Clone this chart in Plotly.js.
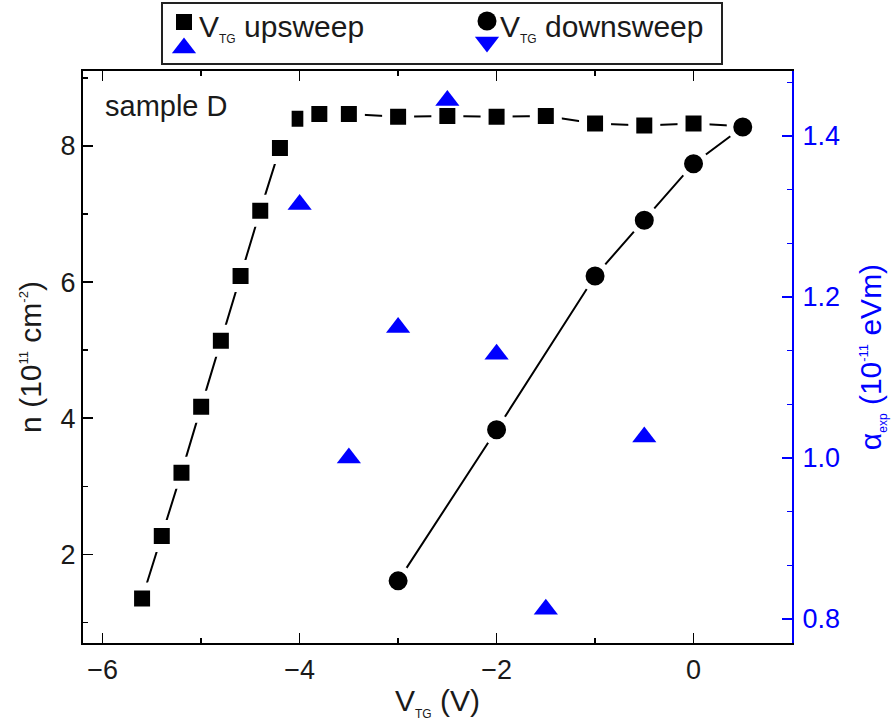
<!DOCTYPE html>
<html><head><meta charset="utf-8">
<script src="https://cdn.plot.ly/plotly-3.0.1.min.js"></script>
<style>html,body{margin:0;padding:0;background:#fff}#chart{width:893px;height:724px}</style>
</head><body><div id="chart"></div>
<script>
// ---- data ----
const vtgUp   = [-5.6,-5.4,-5.2,-5.0,-4.8,-4.6,-4.4,-4.2,-4.0,-3.8,-3.5,-3.0,-2.5,-2.0,-1.5,-1.0,-0.5,0.0,0.5];
const nUp     = [1.35,2.27,3.20,4.17,5.14,6.09,7.05,7.97,8.40,8.47,8.47,8.43,8.44,8.43,8.44,8.33,8.30,8.33,8.29];
const vtgDown = [-3.0,-2.0,-1.0,-0.5,0.0,0.5];
const nDown   = [1.61,3.83,6.09,6.91,7.74,8.28];
const vtgAlpha = [-4.0,-3.5,-3.0,-2.5,-2.0,-1.5,-0.5];
const alphaUp  = [1.315,1.000,1.162,1.444,1.129,0.812,1.026];
const xTickVals = [-6,-4,-2,0];
const yTickVals = [2,4,6,8];
const y2TickVals = [0.8,1.0,1.2,1.4];
const y2TickText = ['0.8','1.0','1.2','1.4'];
const legendLabels = ['V<sub><span style="font-size:12px">TG</span></sub> upsweep',
                      'V<sub><span style="font-size:12px">TG</span></sub> downsweep'];
const sampleLabel = 'sample D';

// ---- layout constants ----
const FONT = 'Liberation Sans, Arial, sans-serif';
const BLUE = '#0000ff';
const W = 893, H = 724;
const mL = 83, mR = 101, mB = 81;
const plotH = H - mB;            // paper height in px (top margin 0)
const topPx = 71;                // top of main plot area
const mainTop = 1 - topPx / plotH;

const traces = [
  { x: vtgUp, y: nUp, mode: 'lines+markers', xaxis: 'x', yaxis: 'y',
    line: {color: '#000', width: 2},
    marker: {symbol: 'square', size: 24, color: '#000', line: {color: '#fff', width: 8}},
    showlegend: false, hoverinfo: 'skip' },
  { x: vtgDown, y: nDown, mode: 'lines+markers', xaxis: 'x', yaxis: 'y',
    line: {color: '#000', width: 2},
    marker: {symbol: 'circle', size: 25, color: '#000', line: {color: '#fff', width: 6}},
    showlegend: false, hoverinfo: 'skip' },
  { x: vtgAlpha, y: alphaUp, mode: 'markers', xaxis: 'x', yaxis: 'y2',
    marker: {symbol: 'triangle-up', size: 21, color: BLUE},
    showlegend: false, hoverinfo: 'skip' },
  // legend symbols (coordinates of the legend panel axis)
  { x: [184], y: [22], mode: 'markers', xaxis: 'x3', yaxis: 'y3',
    marker: {symbol: 'square', size: 16, color: '#000'}, showlegend: false, hoverinfo: 'skip' },
  { x: [184], y: [48], mode: 'markers', xaxis: 'x3', yaxis: 'y3',
    marker: {symbol: 'triangle-up', size: 21, color: BLUE}, showlegend: false, hoverinfo: 'skip' },
  { x: [487], y: [21], mode: 'markers', xaxis: 'x3', yaxis: 'y3',
    marker: {symbol: 'circle', size: 19, color: '#000'}, showlegend: false, hoverinfo: 'skip' },
  { x: [487], y: [42], mode: 'markers', xaxis: 'x3', yaxis: 'y3',
    marker: {symbol: 'triangle-down', size: 21, color: BLUE}, showlegend: false, hoverinfo: 'skip' }
];

const layout = {
  width: W, height: H,
  margin: {l: mL, r: mR, t: 0, b: mB, pad: 0},
  paper_bgcolor: '#fff', plot_bgcolor: 'rgba(0,0,0,0)',
  font: {family: FONT, size: 27, color: '#000'},
  showlegend: false,
  xaxis: {
    domain: [0, 1], anchor: 'y', range: [-6.2, 1.0],
    tickvals: xTickVals, ticks: 'inside', ticklen: 10, tickwidth: 1.5, tickcolor: '#000',
    minor: {dtick: 1, ticks: 'inside', ticklen: 5, tickwidth: 1.5, tickcolor: '#000'},
    showline: true, linecolor: '#000', linewidth: 2, mirror: 'ticks',
    showgrid: false, zeroline: false, ticklabelstandoff: 2,
    tickfont: {family: FONT, size: 27, color: '#1a1a1a'},
    title: {text: 'V<sub><span style="font-size:12px">TG</span></sub> (V)',
            font: {family: FONT, size: 30, color: '#1a1a1a'}, standoff: 6}
  },
  yaxis: {
    domain: [0, mainTop], anchor: 'x', range: [0.697, 9.102],
    tickvals: yTickVals, ticks: 'inside', ticklen: 10, tickwidth: 1.5, tickcolor: '#000',
    minor: {dtick: 1, ticks: 'inside', ticklen: 5, tickwidth: 1.5, tickcolor: '#000'},
    showline: true, linecolor: '#000', linewidth: 2, mirror: false,
    showgrid: false, zeroline: false,
    tickfont: {family: FONT, size: 27, color: '#1a1a1a'},
    title: {text: 'n (10<sup><span style="font-size:13px">11</span></sup> cm<sup><span style="font-size:13px">-2</span></sup>)',
            font: {family: FONT, size: 30, color: '#1a1a1a'}, standoff: 10}
  },
  yaxis2: {
    overlaying: 'y', side: 'right', anchor: 'x', range: [0.7702, 1.4807],
    tickvals: y2TickVals, ticktext: y2TickText, ticks: 'inside', ticklen: 10, tickwidth: 1.5, tickcolor: BLUE,
    minor: {dtick: 0.2/3, tick0: 0, ticks: 'inside', ticklen: 5, tickwidth: 1.5, tickcolor: BLUE},
    showline: true, linecolor: BLUE, linewidth: 2,
    showgrid: false, zeroline: false, ticklabelstandoff: 3,
    tickfont: {family: FONT, size: 27, color: BLUE},
    title: {text: 'α<sub><span style="font-size:12px">exp</span></sub> (10<sup><span style="font-size:13px">-11</span></sup> eVm)',
            font: {family: FONT, size: 30, color: BLUE}, standoff: 21}
  },
  xaxis3: {domain: [0, 1], anchor: 'y3', range: [mL, W - mR], visible: false, fixedrange: true},
  yaxis3: {domain: [mainTop, 1], anchor: 'x3', range: [topPx, 0], visible: false, fixedrange: true},
  shapes: [
    {type: 'rect', xref: 'x3', yref: 'y3', x0: 162, x1: 722, y0: 3, y1: 64,
     line: {color: '#222', width: 2}, fillcolor: 'rgba(0,0,0,0)', layer: 'below'}
  ],
  annotations: [
    {xref: 'x3', yref: 'y3', x: 197, y: 28, xanchor: 'left', yanchor: 'middle', showarrow: false,
     text: legendLabels[0], font: {family: FONT, size: 30, color: '#1a1a1a'}},
    {xref: 'x3', yref: 'y3', x: 498, y: 28, xanchor: 'left', yanchor: 'middle', showarrow: false,
     text: legendLabels[1], font: {family: FONT, size: 30, color: '#1a1a1a'}},
    {xref: 'paper', yref: 'paper', x: (103 - mL) / (W - mL - mR), y: 1 - 106 / plotH,
     xanchor: 'left', yanchor: 'middle', showarrow: false,
     text: sampleLabel, font: {family: FONT, size: 29, color: '#1a1a1a'}}
  ]
};

Plotly.newPlot('chart', traces, layout, {staticPlot: true, displayModeBar: false});
</script>
</body></html>
